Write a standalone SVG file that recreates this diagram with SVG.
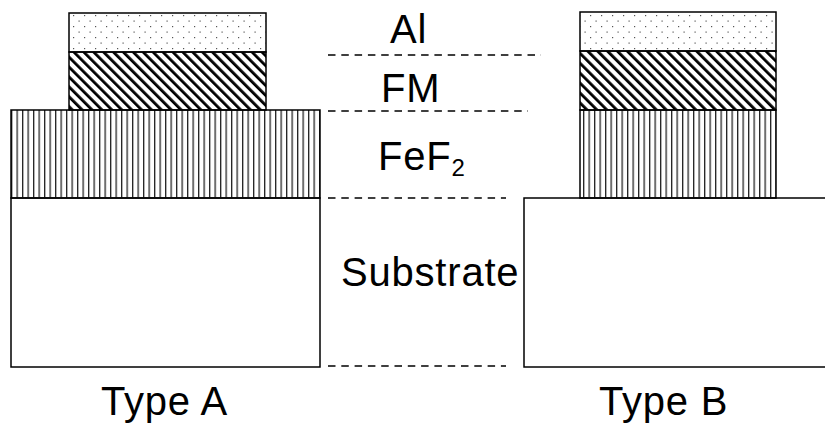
<svg xmlns="http://www.w3.org/2000/svg" width="825" height="426" viewBox="0 0 825 426">
  <defs>
    <pattern id="dots" patternUnits="userSpaceOnUse" x="69" y="13" width="11" height="11">
      <rect x="4" y="2" width="1.2" height="1.2" fill="#555"/>
      <rect x="9.5" y="7.5" width="1.2" height="1.2" fill="#555"/>
    </pattern>
    <pattern id="diag" patternUnits="userSpaceOnUse" width="7" height="7" patternTransform="rotate(-45)">
      <rect x="0" y="0" width="2.8" height="7" fill="#000"/>
    </pattern>
    <pattern id="vert" patternUnits="userSpaceOnUse" x="11" y="0" width="5.5" height="10">
      <rect x="0" y="0" width="1.3" height="10" fill="#222"/>
    </pattern>
  </defs>
  <style>
    .box { stroke: #000; stroke-width: 1.5; }
    .al { fill: url(#dots); }
    .fm { fill: url(#diag); }
    .fef { fill: url(#vert); }
    .sub { fill: #fff; }
    .dash { stroke: #000; stroke-width: 1.3; stroke-dasharray: 7.5 5.8; fill: none; }
    text { font-family: "Liberation Sans", Arial, sans-serif; font-size: 40px; letter-spacing: 0.8px; fill: #000; }
  </style>
  <rect width="825" height="426" fill="#fff"/>

  <g id="typeA">
    <rect id="A-substrate" class="box sub" x="11" y="198" width="309" height="169"/>
    <rect id="A-fef2" class="box fef" x="11" y="110" width="309" height="88"/>
    <rect id="A-fm" class="box fm" x="69" y="52" width="197" height="58"/>
    <rect id="A-al" class="box al" x="69" y="13" width="197" height="39"/>
  </g>

  <g id="typeB">
    <rect id="B-substrate" class="box sub" x="524" y="198" width="305" height="169"/>
    <rect id="B-fef2" class="box fef" x="580" y="110" width="196" height="88"/>
    <rect id="B-fm" class="box fm" x="580" y="51" width="196" height="59"/>
    <rect id="B-al" class="box al" x="580" y="12" width="196" height="39"/>
  </g>

  <g id="connectors">
    <line class="dash" x1="328" y1="55" x2="541" y2="55"/>
    <line class="dash" x1="328" y1="111" x2="528" y2="111"/>
    <line class="dash" x1="328" y1="198" x2="506" y2="198"/>
    <line class="dash" x1="328" y1="366" x2="506" y2="366"/>
  </g>

  <g id="labels">
    <text x="390" y="43">Al</text>
    <text x="381" y="102">FM</text>
    <text x="378" y="170">FeF<tspan font-size="24" dy="6">2</tspan></text>
    <text x="341" y="286">Substrate</text>
    <text x="101" y="415">Type A</text>
    <text x="599" y="415">Type B</text>
  </g>
</svg>
